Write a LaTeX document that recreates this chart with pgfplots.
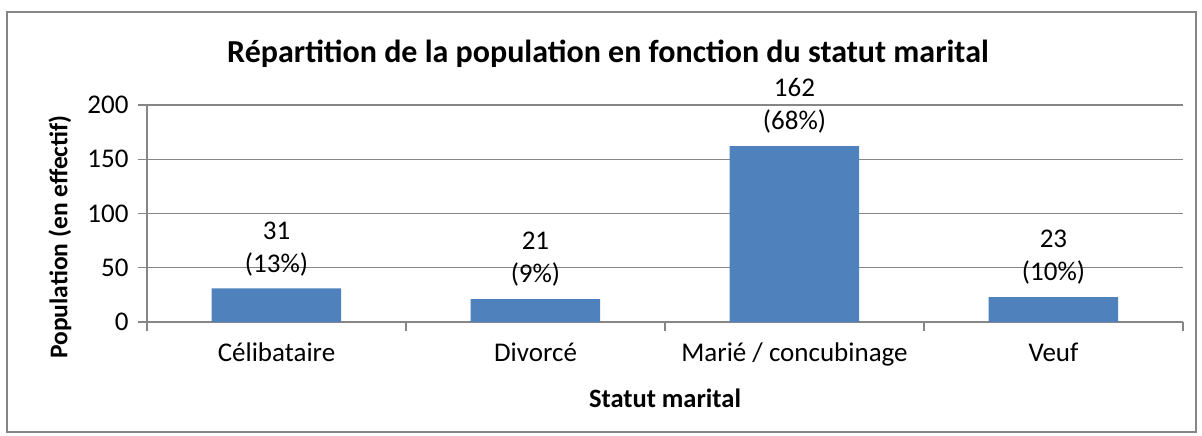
\documentclass[border=0pt]{standalone}
\usepackage{pgfplots}
\pgfplotsset{compat=1.18}
\usepackage{fontspec}
\setmainfont{Carlito}
\definecolor{barblue}{HTML}{4F81BD}
\definecolor{axgray}{HTML}{868686}
\begin{document}
\begin{tikzpicture}
\path[use as bounding box] (-147bp,-114bp) rectangle (1055bp,322bp);
\draw[color=axgray, line width=1.2bp] (-140bp,-110bp) rectangle (1049bp,310bp);
\begin{axis}[
  at={(0,0)}, anchor=south west,
  scale only axis, width=1036bp, height=217bp,
  xmin=-0.5, xmax=3.5, ymin=0, ymax=200,
  ytick={0,50,100,150,200},
  xtick={0,1,2,3},
  xticklabels={Célibataire, Divorcé, Marié / concubinage, Veuf},
  minor xtick={-0.5,0.5,1.5,2.5,3.5},
  axis x line=bottom, axis y line=left,
  axis line style={color=axgray, line width=1.2bp, -},
  ymajorgrids, grid style={color=axgray, line width=1.2bp},
  major x tick style={draw=none},
  minor x tick style={color=axgray, line width=1.2bp},
  major y tick style={color=axgray, line width=1.2bp},
  tick align=outside, major tick length=9bp, minor tick length=9bp,
  ticklabel style={font=\fontsize{27bp}{32bp}\selectfont},
  /pgf/number format/assume math mode=true,
  xticklabel style={yshift=-8bp},
  yticklabel style={xshift=-6bp},
  ylabel={Population (en effectif)},
  ylabel style={font=\bfseries\fontsize{25.5bp}{30bp}\selectfont, at={(axis description cs:-0.084,0.392)}, anchor=center},
  xlabel={Statut marital},
  xlabel style={font=\bfseries\fontsize{26.5bp}{30bp}\selectfont, at={(axis description cs:0.5,-0.350)}, anchor=center},
  clip=false,
]
\addplot[ybar, bar width=0.5, fill=barblue, draw=none,
  point meta=explicit symbolic,
  nodes near coords={\pgfplotspointmeta},
  nodes near coords style={align=center, font=\fontsize{27bp}{33bp}\selectfont, anchor=south, yshift=9bp}]
  coordinates {(0,31) [31\\(13\%)] (1,21) [21\\(9\%)] (2,162) [162\\(68\%)] (3,23) [23\\(10\%)]};
\end{axis}
\node[font=\bfseries\fontsize{32bp}{38bp}\selectfont] at (461bp,268bp) {Répartition de la population en fonction du statut marital};
\end{tikzpicture}
\end{document}
